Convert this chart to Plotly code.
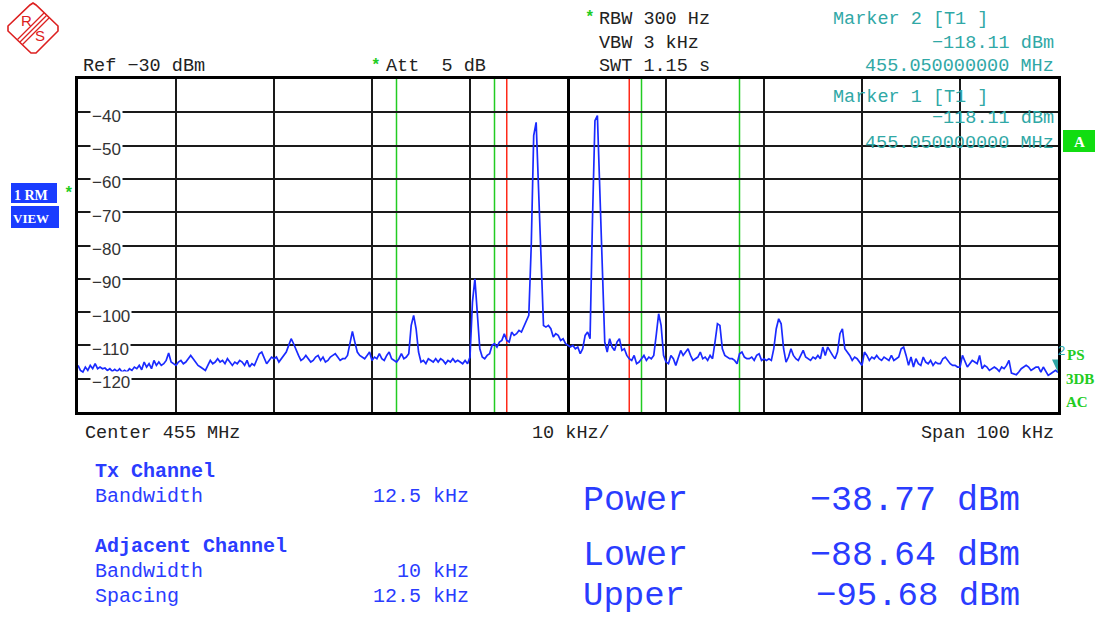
import numpy as np
import plotly.graph_objects as go

# ---------------- data ----------------
center_label = "Center 455 MHz"
span_khz = 100
div_label = "10 kHz/"
span_label = "Span 100 kHz"
ref_level_dbm = -30
bottom_level_dbm = -130
ytick_values = [-40, -50, -60, -70, -80, -90, -100, -110, -120]

tx_bw_khz = 12.5
adj_bw_khz = 10
adj_spacing_khz = 12.5

power_dbm = -38.77
lower_dbm = -88.64
upper_dbm = -95.68

marker_freq_label = "455.050000000 MHz"
marker_level_dbm = -118.11

# trace levels (dBm), 401 sweep points across the 100 kHz span
levels_a = [-116, -117.5, -118, -116.5, -117.5, -116, -117, -115.5, -117, -116.5,
            -117, -116.8, -117.5, -117, -117.8, -117.2, -117.8, -117, -118, -117.5,
            -118, -117, -117.5, -116.5, -117, -116, -117.3, -115, -116.5, -115.5,
            -117, -114.5, -116, -115, -116, -115.5, -114.5, -112.3, -115, -115.5]
levels_b = [-116, -115, -114.5, -115.5, -115, -114, -113, -114, -115, -116,
            -116.5, -117, -117.5, -116, -114.5, -115.5, -115, -114, -115, -114.5,
            -115.5, -114, -115, -116, -115, -115.5, -114.5, -115, -116, -114.5,
            -116.5, -115.5, -116, -114, -112.5, -112, -114, -115.5, -114.5, -113.5]
levels_c = [-114, -113.5, -115, -114, -113, -112, -110, -108, -109.5, -111.5,
            -113, -114.5, -114, -113, -114, -115, -114.5, -113.5, -113, -114.5,
            -113.5, -115, -114.5, -113.5, -113, -112.5, -113.5, -114.5, -114, -114,
            -113, -109, -105.8, -109, -112, -113, -113.5, -114, -113, -112]
levels_d = [-114.5, -113.5, -114, -112.5, -114, -114.5, -113, -112, -114, -114.5,
            -115, -114, -112.5, -114, -113.5, -112.5, -104, -101, -105, -112,
            -115, -114.5, -115.5, -114, -114.5, -115, -114, -115, -114, -114.5,
            -115.5, -114.5, -115, -114, -115, -114.5, -115, -115.5, -114.5, -115.5]
levels_e = [-113.5, -97, -90, -100, -111, -113.5, -114, -113, -112.5, -110,
            -109.5, -110.5, -109, -108.5, -106.5, -108.5, -109, -106, -107, -106.5,
            -105.5, -106, -104.5, -103, -101, -80, -47, -43, -65, -88,
            -104, -104.5, -104, -105, -107.5, -106.5, -107, -108.5, -108, -109.5]
levels_f = [-110, -110.5, -110, -111, -110.5, -112.5, -111, -107, -106, -108,
            -72, -42.5, -41, -62, -88, -109, -112, -108, -110.5, -111.5,
            -109, -108, -111.5, -111, -113, -114, -114.5, -113, -115.5, -115,
            -114, -113, -114.5, -113.5, -114, -113, -107, -100.5, -104, -113]
levels_g = [-115, -115.5, -113, -114, -116, -113.5, -111.5, -113, -112, -111,
            -113, -114.5, -114, -113.5, -112, -114, -113.5, -114.5, -113, -114,
            -109, -103.5, -104, -111, -113, -113.5, -114, -114, -114.5, -115.5,
            -112.5, -112, -113.5, -114, -114, -113.5, -114.5, -113, -112.5, -114.5]
levels_h = [-114, -114.5, -114, -114.5, -111, -105, -102, -103.5, -111, -115,
            -113.5, -111, -113, -114, -114.5, -113, -111.5, -113.5, -114, -114.5,
            -113.5, -114, -113, -114, -110.5, -113, -110.5, -112, -113, -114,
            -112, -106.5, -105, -111, -112, -113, -114.5, -113.5, -114, -115]
levels_i = [-116, -112, -113, -114.5, -113.5, -114, -113, -114, -114.5, -113.5,
            -114, -114.5, -113, -114.5, -114, -113.5, -111, -110.5, -113, -116,
            -113.5, -116.5, -114, -115.5, -116, -113.5, -115, -115.5, -114.5, -116,
            -115, -115.5, -115.5, -114, -113.5, -114.5, -115.5, -116, -116, -116.5]
levels_j = [-116.5, -113, -115, -116.5, -115.5, -114.5, -115, -115.5, -113, -117,
            -116, -116.5, -117.5, -117, -116.5, -117, -117.8, -116.5, -117, -116,
            -114.5, -118.3, -118.5, -118.8, -118, -117, -116.5, -116, -116.5, -117.5,
            -117, -116.5, -116.5, -118, -116.5, -118, -119, -118.5, -118, -117.5,
            marker_level_dbm]

levels = (levels_a + levels_b + levels_c + levels_d + levels_e +
          levels_f + levels_g + levels_h + levels_i + levels_j)
freq_khz = np.linspace(-span_khz / 2, span_khz / 2, len(levels))

# ---------------- layout helpers ----------------
L, R, T, B = 78, 1058, 79, 412


def px(x):
    return (x - L) / (R - L)


def py(y):
    return (B - y) / (B - T)


MONO = "Liberation Mono"
SANS = "Liberation Sans"
SERIF = "Liberation Serif"
TEAL = "#30a8a6"
BLUE_TXT = "#2a3cff"
GREEN = "#22cc22"
RED = "#ff2a1a"

annotations = []
shapes = []


def text(x, y, s, size=18.5, color="#222222", anchor="left", family=MONO, bold=False, **kw):
    annotations.append(dict(
        x=px(x), y=py(y), xref="paper", yref="paper", text=f"<b>{s}</b>" if bold else s,
        showarrow=False, xanchor=anchor, yanchor="middle", borderpad=0,
        font=dict(family=family, size=size, color=color), **kw))


def rect(x0, y0, x1, y1, fill):
    shapes.append(dict(type="rect", xref="paper", yref="paper",
                       x0=px(x0), x1=px(x1), y0=py(y1), y1=py(y0),
                       fillcolor=fill, line=dict(width=0), layer="above"))


def path(points, color, width=1.5, closed=False):
    d = "M " + " L ".join(f"{px(a):.5f},{py(b):.5f}" for a, b in points)
    if closed:
        d += " Z"
    shapes.append(dict(type="path", xref="paper", yref="paper", path=d,
                       line=dict(color=color, width=width), layer="above"))


fig = go.Figure()
fig.add_trace(go.Scatter(x=freq_khz, y=levels, mode="lines",
                         line=dict(color="#1a2aff", width=1.7), hoverinfo="skip"))

# channel limit lines
red_edges = [-tx_bw_khz / 2, tx_bw_khz / 2]
green_edges = [-adj_spacing_khz - adj_bw_khz / 2, -adj_spacing_khz + adj_bw_khz / 2,
               adj_spacing_khz - adj_bw_khz / 2, adj_spacing_khz + adj_bw_khz / 2]
for xe in green_edges:
    shapes.append(dict(type="line", xref="x", yref="paper", x0=xe, x1=xe, y0=0, y1=1,
                       line=dict(color=GREEN, width=1.5), layer="below"))
for xe in red_edges:
    shapes.append(dict(type="line", xref="x", yref="paper", x0=xe, x1=xe, y0=0, y1=1,
                       line=dict(color=RED, width=1.5), layer="below"))

# marker triangle at trace end
shapes.append(dict(type="path", xref="x", yref="y", xsizemode="pixel", ysizemode="pixel",
                   xanchor=span_khz / 2, yanchor=marker_level_dbm,
                   path="M -6,13 L 6,13 L 0,0 Z", fillcolor=TEAL, line=dict(width=0),
                   layer="above"))
annotations.append(dict(x=span_khz / 2, y=marker_level_dbm, xref="x", yref="y", text="2",
                        showarrow=False, xanchor="left", yanchor="bottom", xshift=-2, yshift=12,
                        font=dict(family=SANS, size=13, color=TEAL)))

# y tick labels drawn inside the grid
for v in ytick_values:
    annotations.append(dict(x=px(90), y=v, xref="paper", yref="y", text=f"\u2212{abs(v)}",
                            showarrow=False, xanchor="left", yanchor="middle", yshift=-4,
                            bgcolor="white", borderpad=1,
                            font=dict(family=SANS, size=17, color="#333333")))

# header texts
text(82, 67, f"Ref \u2212{abs(ref_level_dbm)} dBm")
text(376, 66, "*", size=16, color=GREEN, anchor="center", bold=True)
text(385, 67, "Att  5 dB")
text(590, 18, "*", size=16, color=GREEN, anchor="center", bold=True)
text(598, 19, "RBW 300 Hz")
text(598, 43, "VBW 3 kHz")
text(598, 67, "SWT 1.15 s")
text(832, 19, "Marker 2 [T1 ]", color=TEAL)
text(1055, 43, f"\u2212{abs(marker_level_dbm):.2f} dBm", color=TEAL, anchor="right")
text(1055, 67, marker_freq_label, color=TEAL, anchor="right")
text(832, 97, "Marker 1 [T1 ]", color=TEAL)
text(1055, 119, f"\u2212{abs(marker_level_dbm):.2f} dBm", color=TEAL, anchor="right")
text(1055, 143, marker_freq_label, color=TEAL, anchor="right")

# frequency axis labels
text(84, 433, center_label)
text(531, 433, div_label)
text(1055, 433, span_label, anchor="right")

# side badges
rect(1063, 130, 1095, 152, "#11dd11")
text(1079, 142, "A", size=15, color="white", anchor="center", family=SERIF, bold=True)
rect(11, 183, 57, 203, "#1a3cff")
text(13, 195, "1 RM", size=14, color="white", family=SERIF, bold=True)
rect(11, 206, 59, 228, "#1a3cff")
text(12, 218, "VIEW", size=13, color="white", family=SERIF, bold=True)
text(69, 194, "*", size=16, color=GREEN, anchor="center", bold=True)
text(1066, 355, "PS", size=15, color=GREEN, family=SERIF, bold=True)
text(1065, 379, "3DB", size=15, color=GREEN, family=SERIF, bold=True)
text(1065, 402, "AC", size=15, color=GREEN, family=SERIF, bold=True)

# R&S logo
LOGO = "#dd2020"
path([(33, 3), (36, 5), (58, 26), (58, 31), (36, 53), (31, 53), (8, 31), (8, 26), (30, 5)],
     LOGO, 1.6, closed=True)
for d in (-2.5, 0, 2.5):
    path([(20 + d, 42 + d), (46.5 + d, 15.5 + d)], LOGO, 1.2)
text(26, 21, "R", size=15, color=LOGO, anchor="center", family=SANS)
text(40, 36, "S", size=15, color=LOGO, anchor="center", family=SANS)

# bottom result table
text(94, 471, "Tx Channel", size=20, color=BLUE_TXT, bold=True)
text(94, 496, "Bandwidth", size=20, color=BLUE_TXT)
text(470, 496, f"{tx_bw_khz} kHz", size=20, color=BLUE_TXT, anchor="right")
text(94, 546, "Adjacent Channel", size=20, color=BLUE_TXT, bold=True)
text(94, 571, "Bandwidth", size=20, color=BLUE_TXT)
text(470, 571, f"{adj_bw_khz} kHz", size=20, color=BLUE_TXT, anchor="right")
text(94, 596, "Spacing", size=20, color=BLUE_TXT)
text(470, 596, f"{adj_spacing_khz} kHz", size=20, color=BLUE_TXT, anchor="right")


def dbm(v):
    return f"\u2212{abs(v):.2f} dBm"


text(582, 501, "Power", size=35, color=BLUE_TXT)
text(1021, 501, dbm(power_dbm), size=35, color=BLUE_TXT, anchor="right")
text(582, 556, "Lower", size=35, color=BLUE_TXT)
text(1021, 556, dbm(lower_dbm), size=35, color=BLUE_TXT, anchor="right")
text(582, 596, "Upper", size=34, color=BLUE_TXT)
text(1021, 596, dbm(upper_dbm), size=34, color=BLUE_TXT, anchor="right")

axis_common = dict(showgrid=True, gridcolor="#1a1a1a", gridwidth=1.5,
                   showticklabels=False, ticks="", showline=True, mirror=True,
                   linecolor="black", linewidth=3)
fig.update_layout(
    width=1100, height=617,
    margin=dict(l=L, r=1100 - R, t=T, b=617 - B),
    plot_bgcolor="white", paper_bgcolor="white", showlegend=False,
    xaxis=dict(range=[-span_khz / 2, span_khz / 2], dtick=10, tick0=0,
               zeroline=True, zerolinecolor="black", zerolinewidth=3, **axis_common),
    yaxis=dict(range=[bottom_level_dbm, ref_level_dbm], dtick=10, tick0=0,
               zeroline=False, **axis_common),
    annotations=annotations, shapes=shapes,
)
fig.write_html(
    "out.html",
    config={"displayModeBar": False},
    post_script="document.body.style.margin='0px';document.body.style.padding='0px';"
                "document.documentElement.style.overflow='hidden';",
)
